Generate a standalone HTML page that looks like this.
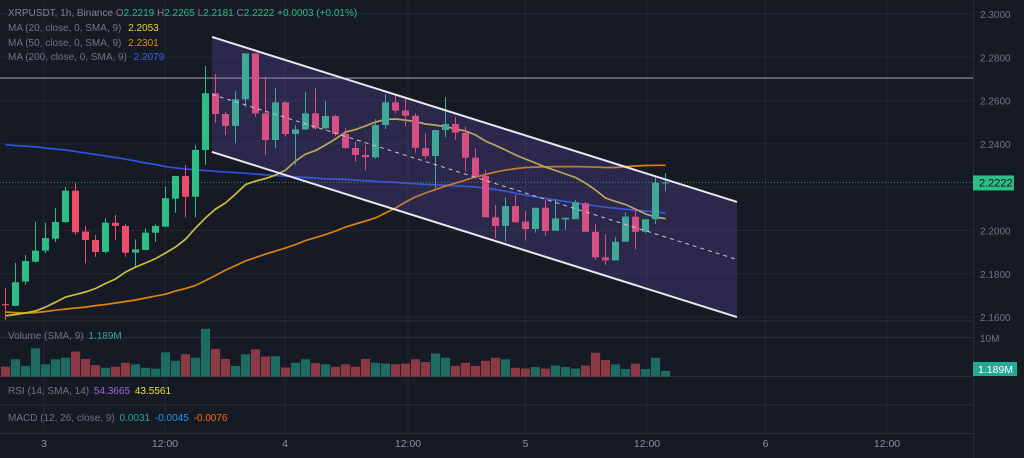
<!DOCTYPE html>
<html><head><meta charset="utf-8">
<style>
html,body{margin:0;padding:0;background:#161a25;}
svg{display:block;font-family:"Liberation Sans",sans-serif;}
</style></head>
<body>
<svg id="chart" width="1024" height="458" viewBox="0 0 1024 458" xmlns="http://www.w3.org/2000/svg">
<rect x="0" y="0" width="1024" height="458" fill="#161a25"/>
<g id="grid"></g>
<g id="vol"></g>
<g id="ma"></g>
<g id="candles"></g>
<g id="channel"></g>
<g id="axis"></g>
<g id="legend" font-size="10">
  <text x="8" y="16" fill="#7d828f">XRPUSDT, 1h, Binance <tspan fill="#7d828f">O</tspan><tspan fill="#2ebd85">2.2219</tspan> <tspan fill="#7d828f">H</tspan><tspan fill="#2ebd85">2.2265</tspan> <tspan fill="#7d828f">L</tspan><tspan fill="#2ebd85">2.2181</tspan> <tspan fill="#7d828f">C</tspan><tspan fill="#2ebd85">2.2222</tspan> <tspan fill="#2ebd85">+0.0003 (+0.01%)</tspan></text>
  <text x="8" y="31" fill="#6f7480">MA (20, close, 0, SMA, 9) <tspan dx="4" fill="#e6d43a">2.2053</tspan></text>
  <text x="8" y="46" fill="#6f7480">MA (50, close, 0, SMA, 9) <tspan dx="4" fill="#e88a10">2.2301</tspan></text>
  <text x="8" y="60" fill="#6f7480">MA (200, close, 0, SMA, 9) <tspan dx="4" fill="#3a63e8">2.2079</tspan></text>
  <text x="8" y="339" fill="#6f7480">Volume (SMA, 9) <tspan dx="2" fill="#22ab94">1.189M</tspan></text>
  <text x="8" y="394" fill="#6f7480">RSI (14, SMA, 14) <tspan dx="2" fill="#9c6ade">54.3665</tspan> <tspan dx="2" fill="#e8e13a">43.5561</tspan></text>
  <text x="8" y="421" fill="#6f7480">MACD (12, 26, close, 9) <tspan dx="2" fill="#22ab94">0.0031</tspan> <tspan dx="2" fill="#2196f3">-0.0045</tspan> <tspan dx="2" fill="#ff6d00">-0.0076</tspan></text>
</g>
</svg>
<script>
const opens  =[2.1660,2.1652,2.1764,2.1856,2.1907,2.1962,2.2039,2.2184,2.1995,2.1956,2.1901,2.2036,2.2021,2.1898,2.1910,2.1990,2.2018,2.2147,2.2252,2.2156,2.2372,2.2634,2.2538,2.2483,2.2606,2.2818,2.2541,2.2418,2.2592,2.2446,2.2467,2.2541,2.2472,2.2529,2.2446,2.2381,2.2349,2.2338,2.2487,2.2592,2.2554,2.2530,2.2380,2.2344,2.2464,2.2492,2.2452,2.2336,2.2252,2.2061,2.2021,2.2113,2.2041,2.2007,2.2105,2.1999,2.2051,2.2052,2.2126,2.1994,2.1876,2.1862,2.1948,2.2064,2.1994,2.2052,2.2219];
const highs  =[2.1735,2.1850,2.1887,2.2041,2.2036,2.2104,2.2202,2.2221,2.2022,2.1979,2.2056,2.2072,2.2032,2.1959,2.2010,2.2028,2.2202,2.2252,2.2303,2.2395,2.2760,2.2721,2.2548,2.2644,2.2818,2.2818,2.2710,2.2657,2.2597,2.2487,2.2641,2.2657,2.2598,2.2535,2.2472,2.2410,2.2395,2.2514,2.2629,2.2629,2.2611,2.2541,2.2449,2.2464,2.2615,2.2523,2.2480,2.2380,2.2280,2.2118,2.2153,2.2164,2.2090,2.2105,2.2141,2.2145,2.2059,2.2141,2.2131,2.2030,2.1984,2.1969,2.2084,2.2103,2.2052,2.2246,2.2265];
const lows   =[2.1587,2.1650,2.1750,2.1852,2.1896,2.1947,2.2035,2.1980,2.1848,2.1878,2.1895,2.1956,2.1879,2.1833,2.1908,2.1948,2.2015,2.2082,2.2061,2.2061,2.2303,2.2497,2.2441,2.2404,2.2572,2.2526,2.2349,2.2380,2.2435,2.2303,2.2464,2.2464,2.2467,2.2435,2.2377,2.2318,2.2279,2.2332,2.2469,2.2541,2.2479,2.2359,2.2330,2.2195,2.2430,2.2418,2.2272,2.2241,2.2061,2.1964,2.1948,2.2036,2.1953,2.1990,2.1976,2.1999,2.2002,2.2052,2.1994,2.1864,2.1841,2.1862,2.1948,2.1913,2.1987,2.2030,2.2181];
const closes =[2.1655,2.1761,2.1859,2.1907,2.1965,2.2039,2.2184,2.1992,2.1956,2.1901,2.2036,2.2021,2.1897,2.1913,2.1990,2.2021,2.2149,2.2252,2.2156,2.2372,2.2634,2.2538,2.2483,2.2606,2.2818,2.2541,2.2418,2.2592,2.2446,2.2467,2.2541,2.2472,2.2529,2.2446,2.2381,2.2349,2.2338,2.2487,2.2592,2.2554,2.2530,2.2382,2.2344,2.2464,2.2492,2.2452,2.2336,2.2252,2.2061,2.2021,2.2113,2.2038,2.2007,2.2105,2.1998,2.2056,2.2059,2.2130,2.1994,2.1876,2.1862,2.1948,2.2064,2.1994,2.2052,2.2221,2.2222];
const volumes=[2.6,4.5,2.8,7.3,3.2,4.5,4.9,6.5,4.6,3.0,2.3,2.6,3.6,3.2,2.3,2.1,6.3,4.1,5.8,4.9,12.4,7.2,4.6,2.8,5.8,7.1,5.2,5.3,2.4,3.6,4.5,3.5,3.2,2.6,3.2,2.6,4.6,3.6,3.4,3.2,3.4,4.5,3.8,6.0,4.9,2.8,3.6,2.8,4.1,4.9,4.5,2.3,2.1,2.5,2.1,2.9,2.5,2.1,2.9,6.2,4.3,3.2,2.0,3.4,2.0,4.9,1.5];
const ma20 =[2.1606,2.1612,2.1619,2.1628,2.1646,2.1669,2.1693,2.1704,2.1716,2.1732,2.1755,2.1776,2.1808,2.1831,2.1850,2.1870,2.1896,2.1924,2.1960,2.2011,2.2058,2.2099,2.2127,2.2168,2.2212,2.2228,2.2240,2.2256,2.2279,2.2321,2.2353,2.2369,2.2395,2.2423,2.2455,2.2466,2.2483,2.2501,2.2513,2.2515,2.2510,2.2503,2.2492,2.2487,2.2480,2.2469,2.2460,2.2441,2.2413,2.2393,2.2372,2.2349,2.2330,2.2312,2.2293,2.2277,2.2261,2.2245,2.2219,2.2187,2.2150,2.2134,2.2120,2.2099,2.2076,2.2062,2.2055];
const ma50 =[2.1623,2.1621,2.1619,2.1621,2.1626,2.1632,2.1637,2.1642,2.1646,2.1653,2.1658,2.1665,2.1672,2.1679,2.1688,2.1697,2.1706,2.1720,2.1732,2.1746,2.1769,2.1792,2.1817,2.1838,2.1859,2.1875,2.1891,2.1905,2.1919,2.1935,2.1954,2.1967,2.1981,2.1997,2.2016,2.2030,2.2044,2.2058,2.2081,2.2104,2.2131,2.2155,2.2173,2.2189,2.2205,2.2219,2.2233,2.2247,2.2258,2.2270,2.2279,2.2286,2.2291,2.2293,2.2294,2.2295,2.2295,2.2295,2.2294,2.2293,2.2291,2.2291,2.2295,2.2298,2.2300,2.2301,2.2301];
const ma200=[2.2397,2.2392,2.2390,2.2386,2.2381,2.2376,2.2372,2.2365,2.2358,2.2351,2.2344,2.2337,2.2330,2.2321,2.2312,2.2305,2.2295,2.2289,2.2284,2.2280,2.2277,2.2273,2.2270,2.2267,2.2264,2.2261,2.2257,2.2254,2.2251,2.2247,2.2245,2.2242,2.2239,2.2238,2.2236,2.2233,2.2230,2.2227,2.2224,2.2222,2.2219,2.2216,2.2213,2.2211,2.2209,2.2207,2.2204,2.2201,2.2196,2.2189,2.2182,2.2172,2.2163,2.2155,2.2148,2.2141,2.2134,2.2127,2.2120,2.2114,2.2107,2.2103,2.2098,2.2094,2.2090,2.2085,2.2081];
const priceTicks=[2.30,2.28,2.26,2.24,2.22,2.20,2.18,2.16];
const timeLabels=["3","12:00","4","12:00","5","12:00","6","12:00"];
const timeIdx=[3.85,15.95,27.95,40.25,52,64.15,76,88.15];
const channelIdx=[20.65,73.15];
const channelUpper=[2.2894,2.2132];
const channelLower=[2.2363,2.1600];
const hLinePrice=2.2704;
const lastPrice=2.2222;
const lastVolume="1.189M";

const NS="http://www.w3.org/2000/svg";
const X=i=>5.5+10*i;
const Y=p=>14+(2.30-p)*2165;
const VY=v=>376.7-v*3.87;
function mk(tag,parent,attrs){const e=document.createElementNS(NS,tag);for(const k in attrs)e.setAttribute(k,attrs[k]);parent.appendChild(e);return e;}
const g=id=>document.getElementById(id);

const grid=g('grid');
priceTicks.forEach(p=>{const l=mk('line',grid,{x1:0,x2:973,y1:Y(p),y2:Y(p),stroke:'#232733','stroke-width':1});

});
timeIdx.forEach(t=>{const l=mk('line',grid,{x1:X(t),x2:X(t),y1:0,y2:433,stroke:'#232733','stroke-width':1});

});
[321,337.5,376.5,405,433.5].forEach(y=>{const l=mk('line',grid,{x1:0,x2:1024,y1:y,y2:y,stroke:'#2a2e39','stroke-width':1});

});
const hl=mk('line',grid,{x1:0,x2:973,y1:Y(hLinePrice),y2:Y(hLinePrice),stroke:'#9598a1','stroke-width':1.2});


const pl=mk('line',grid,{x1:0,x2:973,y1:Y(lastPrice),y2:Y(lastPrice),stroke:'#2ebd85','stroke-width':1,'stroke-dasharray':'1 2',opacity:0.7});



const vol=g('vol');
volumes.forEach((v,i)=>{const up=closes[i]>=opens[i];
const r=mk('rect',vol,{x:X(i)-4.6,y:VY(v),width:9.2,height:376.7-VY(v),fill:up?'#1e6b61':'#8a3a45'});

});

const ma=g('ma');
[[ma200,'#2d52d8','ma200-line'],[ma50,'#d9820f','ma50-line'],[ma20,'#cdbd3c','ma20-line']].forEach(([arr,c,n])=>{
const p=mk('polyline',ma,{points:arr.map((v,i)=>X(i)+','+Y(v).toFixed(1)).join(' '),fill:'none',stroke:c,'stroke-width':1.7});

});

const cg=g('candles');
opens.forEach((o,i)=>{const c=closes[i];const up=c>=o;const col=up?'#2ebd85':'#ef4b6c';
const w=mk('line',cg,{x1:X(i),x2:X(i),y1:Y(highs[i]),y2:Y(lows[i]),stroke:col,'stroke-width':1});


const top=Y(Math.max(o,c)),bot=Y(Math.min(o,c));
const b=mk('rect',cg,{x:X(i)-3.5,y:top,width:7,height:Math.max(1,bot-top),fill:col});

});

const ch=g('channel');
const x0=X(channelIdx[0]),x1=X(channelIdx[1]);
const poly=mk('polygon',ch,{points:`${x0},${Y(channelUpper[0])} ${x1},${Y(channelUpper[1])} ${x1},${Y(channelLower[1])} ${x0},${Y(channelLower[0])}`,fill:'rgba(125,95,215,0.21)'});


const up=mk('line',ch,{x1:x0,y1:Y(channelUpper[0]),x2:x1,y2:Y(channelUpper[1]),stroke:'#e8e8ee','stroke-width':2});


const lo=mk('line',ch,{x1:x0,y1:Y(channelLower[0]),x2:x1,y2:Y(channelLower[1]),stroke:'#e8e8ee','stroke-width':2});


const mid=mk('line',ch,{x1:x0,y1:(Y(channelUpper[0])+Y(channelLower[0]))/2,x2:x1,y2:(Y(channelUpper[1])+Y(channelLower[1]))/2,stroke:'#c8c8d0','stroke-width':1,'stroke-dasharray':'4 4'});



const ax=g('axis');
const bg=mk('rect',ax,{x:973,y:0,width:51,height:458,fill:'#161a25'});


const sep=mk('line',ax,{x1:973.5,x2:973.5,y1:0,y2:458,stroke:'#2a2e39'});


priceTicks.forEach(p=>{if(Math.abs(p-2.22)<1e-6)return;
const t=mk('text',ax,{x:980,y:Y(p)+4,fill:'#6f7480','font-size':10});t.textContent=p.toFixed(4);

});
const vt=mk('text',ax,{x:980,y:342,fill:'#6f7480','font-size':10});vt.textContent='10M';


const pb=mk('rect',ax,{x:973,y:Y(lastPrice)-7,width:41,height:15,fill:'#2ebd85'});


const pt=mk('text',ax,{x:979,y:Y(lastPrice)+4,fill:'#0c1a14','font-size':11});pt.textContent=lastPrice.toFixed(4);


const vb=mk('rect',ax,{x:973,y:362,width:44,height:14,fill:'#22ab94'});


const vtt=mk('text',ax,{x:978,y:373,fill:'#ffffff','font-size':10.5});vtt.textContent=lastVolume;


timeLabels.forEach((s,k)=>{const t=mk('text',ax,{x:X(timeIdx[k]),y:447,fill:'#8a8f9c','font-size':10.5,'text-anchor':'middle'});t.textContent=s;

});
</script>
</body></html>
